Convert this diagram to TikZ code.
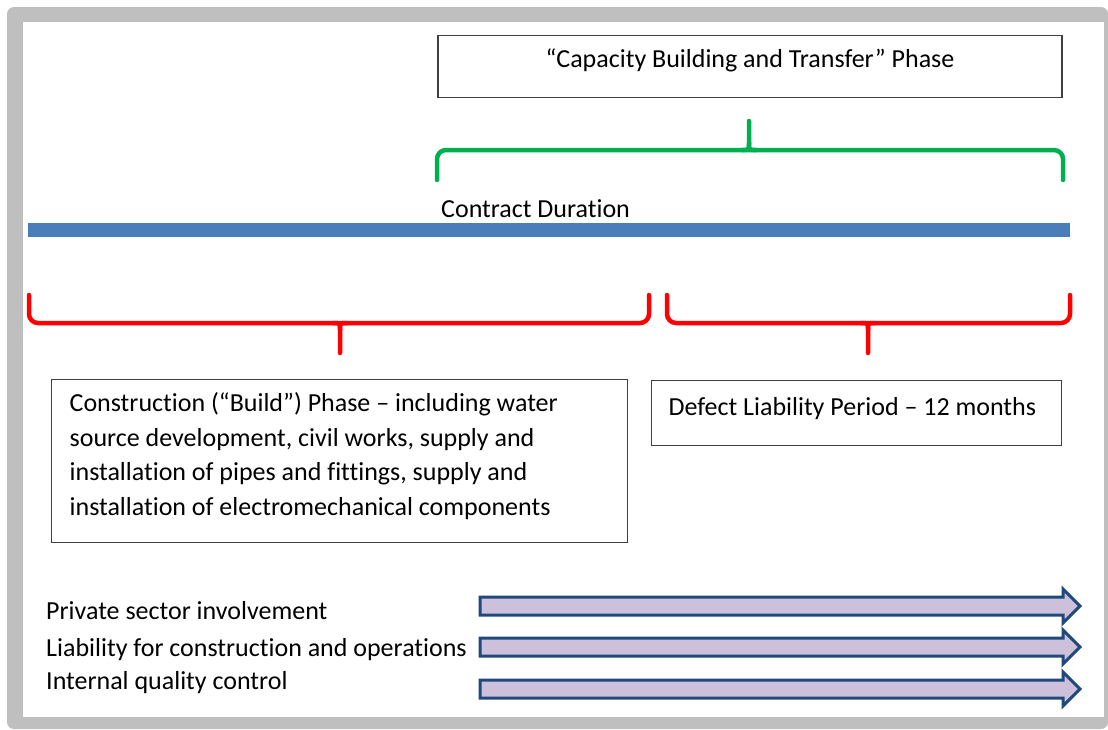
\documentclass[tikz,border=0pt]{standalone}
\usepackage{fontspec}
\setmainfont{Carlito}[Ligatures=NoCommon]

\definecolor{framegray}{RGB}{191,191,191}
\definecolor{barblue}{RGB}{74,126,187}
\definecolor{bracegreen}{RGB}{0,176,80}
\definecolor{arrowfill}{RGB}{204,192,218}
\definecolor{arrowline}{RGB}{31,73,125}

\tikzset{
    phasebox/.style={draw=black!75, line width=1.3pt, inner ysep=0pt},
    label/.style={anchor=base west, inner sep=0pt},
    greenbrace/.style={draw=bracegreen, line width=4.5pt, line cap=round},
    redbrace/.style={draw=red, line width=4.5pt, line cap=round},
    blockarrow/.style={fill=arrowfill, draw=arrowline, line width=3pt, line join=miter}
}

\begin{document}
\begin{tikzpicture}[x=1pt, y=-1pt, every node/.style={font=\fontsize{26}{34.5}\selectfont}]

    \useasboundingbox (0,0) rectangle (1108,729);

    % frame
    \fill[framegray, rounded corners=7pt] (7,7) rectangle (1108,729);
    \fill[white] (23,22) rectangle (1104,717);

    % capacity building phase and its brace
    \node[phasebox, minimum width=624, text height=32pt, text depth=30pt] (cbt) at (750,35) [anchor=north] {“Capacity Building and Transfer” Phase};

    \draw[greenbrace, rounded corners=9pt] (437,180) -- (437,150) -- (1063,150) -- (1063,180);
    \draw[greenbrace] (742,150) .. controls (749,150) .. (749,143) -- (749,121);
    \draw[greenbrace] (756,150) .. controls (749,150) .. (749,143);

    % contract duration bar
    \node[label] (cd) at (441,217) {Contract Duration};
    \fill[barblue] (28,223) rectangle (1070,237);

    % red braces below the bar
    \draw[redbrace, rounded corners=9pt] (29,295) -- (29,323) -- (649,323) -- (649,295);
    \draw[redbrace] (333,323) .. controls (340,323) .. (340,330) -- (340,353);
    \draw[redbrace] (347,323) .. controls (340,323) .. (340,330);

    \draw[redbrace, rounded corners=9pt] (667,295) -- (667,323) -- (1070,323) -- (1070,295);
    \draw[redbrace] (861,323) .. controls (868,323) .. (868,330) -- (868,353);
    \draw[redbrace] (875,323) .. controls (868,323) .. (868,330);

    \node[phasebox, anchor=north west, inner xsep=18pt, text width=540pt, align=flush left] (build) at (51,379) {\rule{0pt}{32pt}Construction (“Build”) Phase – including water\\source development, civil works, supply and\\installation of pipes and fittings, supply and\\installation of electromechanical components\rule[-27pt]{0pt}{27pt}};

    \node[phasebox, anchor=north west, inner xsep=17pt, text width=376pt, text height=35pt, text depth=30pt, align=flush left] (dlp) at (651,380) {Defect Liability Period – 12 months};

    % involvement arrows
    \node[label] (psi) at (46,619) {Private sector involvement};
    \node[label] (lco) at (46,656) {Liability for construction and operations};
    \node[label] (iqc) at (46,689) {Internal quality control};

    \draw[blockarrow] (480,597) -- (1063,597) -- (1063,589) -- (1080,606) -- (1063,623) -- (1063,615) -- (480,615) -- cycle;
    \draw[blockarrow] (480,638) -- (1063,638) -- (1063,630) -- (1080,647) -- (1063,664) -- (1063,656) -- (480,656) -- cycle;
    \draw[blockarrow] (480,680) -- (1063,680) -- (1063,672) -- (1080,689) -- (1063,706) -- (1063,698) -- (480,698) -- cycle;

\end{tikzpicture}
\end{document}
